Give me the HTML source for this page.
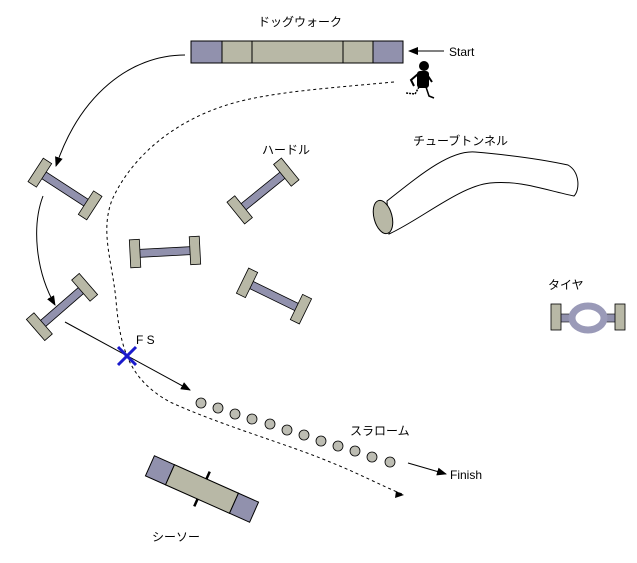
<!DOCTYPE html>
<html><head><meta charset="utf-8"><style>
html,body{margin:0;padding:0;background:#fff;}
svg{display:block;}
text{font-family:"Liberation Sans","Noto Sans CJK JP",sans-serif;font-size:12px;fill:#000;}
</style></head><body>
<svg width="637" height="563" viewBox="0 0 637 563" xmlns="http://www.w3.org/2000/svg">
<defs>
<marker id="ah" markerWidth="10" markerHeight="8" refX="9" refY="4" orient="auto" markerUnits="userSpaceOnUse">
<path d="M0,0 L10,4 L0,8 z" fill="#000"/></marker>
<g id="hurdle">
<rect x="-30" y="-4" width="60" height="8" fill="#9191ad" stroke="#000" stroke-width="0.8"/>
<rect x="-35" y="-14" width="10" height="28" fill="#b8b8a6" stroke="#000" stroke-width="0.8"/>
<rect x="25" y="-14" width="10" height="28" fill="#b8b8a6" stroke="#000" stroke-width="0.8"/>
</g>
</defs>

<!-- dogwalk -->
<text x="258" y="26">ドッグウォーク</text>
<rect x="191" y="41" width="31" height="22" fill="#9191ad" stroke="#000"/>
<rect x="222" y="41" width="30" height="22" fill="#b8b8a6" stroke="#000"/>
<rect x="252" y="41" width="91" height="22" fill="#b8b8a6" stroke="#000"/>
<rect x="343" y="41" width="30" height="22" fill="#b8b8a6" stroke="#000"/>
<rect x="373" y="41" width="30" height="22" fill="#9191ad" stroke="#000"/>
<line x1="444" y1="51" x2="409" y2="51" stroke="#000" marker-end="url(#ah)"/>
<text x="449" y="56">Start</text>

<!-- runner -->
<g fill="#000">
<circle cx="424" cy="66" r="5"/>
<rect x="417" y="71" width="12" height="17" rx="3"/>
<path d="M418,74 L411,80 L414,86" stroke="#000" stroke-width="2" fill="none"/>
<path d="M428,76 L432,82" stroke="#000" stroke-width="2" fill="none"/>
<path d="M419,87 L415,94 L406,93" stroke="#000" stroke-width="1.5" stroke-dasharray="2,1" fill="none"/>
<path d="M426,87 L429,96 L434,98" stroke="#000" stroke-width="1.5" fill="none"/>
</g>

<!-- solid arrows -->
<path d="M185,55 C130,55 80,95 56,166" fill="none" stroke="#000" marker-end="url(#ah)"/>
<path d="M43,196 C32,225 35,270 55,305" fill="none" stroke="#000" marker-end="url(#ah)"/>
<line x1="65" y1="322" x2="190" y2="390" stroke="#000" marker-end="url(#ah)"/>
<line x1="408" y1="463" x2="446" y2="474" stroke="#000" marker-end="url(#ah)"/>
<text x="450" y="479">Finish</text>

<!-- dashed path -->
<path d="M394,82 C330,88 270,92 230,104 C170,122 130,160 112,200 C100,232 112,260 116,300 C120,350 130,380 170,402 C220,425 290,445 330,462 C360,474 380,485 402,494" fill="none" stroke="#000" stroke-width="1" stroke-dasharray="3,3"/>
<path d="M396,491 L404,495 L395,498 z" fill="#000"/>

<!-- hurdles -->
<use href="#hurdle" transform="translate(65,189) rotate(33)"/>
<use href="#hurdle" transform="translate(263,191) rotate(-39)"/>
<use href="#hurdle" transform="translate(165,252) rotate(-3)"/>
<use href="#hurdle" transform="translate(274,296) rotate(26)"/>
<use href="#hurdle" transform="translate(62,307) rotate(-41)"/>
<text x="262" y="154">ハードル</text>

<!-- FS -->
<text x="136" y="344">F S</text>
<g stroke="#1a1acc" stroke-width="3">
<line x1="118" y1="347" x2="136" y2="365"/><line x1="136" y1="347" x2="118" y2="365"/>
</g>

<!-- tunnel -->
<text x="413" y="145">チューブトンネル</text>
<path d="M387,201 C420,175 450,150 475,152 C510,155 545,160 568,165 C580,172 580,190 574,196 C545,190 520,180 490,183 C460,186 420,220 389,234 Z" fill="#fff" stroke="#000"/>
<ellipse cx="383" cy="217" rx="9" ry="17" transform="rotate(-15 383 217)" fill="#b8b8a6" stroke="#000"/>

<!-- tire -->
<text x="548" y="289">タイヤ</text>
<rect x="560" y="314" width="14" height="8" fill="#9191ad" stroke="#000" stroke-width="0.6"/>
<rect x="602" y="314" width="14" height="8" fill="#9191ad" stroke="#000" stroke-width="0.6"/>
<rect x="551" y="304" width="10" height="26" fill="#b8b8a6" stroke="#000" stroke-width="0.8"/>
<rect x="615" y="304" width="10" height="26" fill="#b8b8a6" stroke="#000" stroke-width="0.8"/>
<ellipse cx="588" cy="318" rx="16" ry="12" fill="#fff" stroke="#9a9ab8" stroke-width="7"/>

<!-- slalom -->
<g fill="#bdbdb3" stroke="#000" stroke-width="0.8">
<circle cx="201" cy="403" r="5"/><circle cx="218" cy="408" r="5"/><circle cx="235" cy="414" r="5"/>
<circle cx="252" cy="419" r="5"/><circle cx="270" cy="424" r="5"/><circle cx="287" cy="430" r="5"/>
<circle cx="304" cy="435" r="5"/><circle cx="321" cy="441" r="5"/><circle cx="338" cy="446" r="5"/>
<circle cx="355" cy="451" r="5"/><circle cx="372" cy="457" r="5"/><circle cx="390" cy="462" r="5"/>
</g>
<text x="350" y="435">スラローム</text>

<!-- seesaw -->
<g transform="translate(202,489) rotate(24)">
<line x1="0" y1="-19" x2="0" y2="19" stroke="#000" stroke-width="2.5"/>
<rect x="-57" y="-11" width="22" height="22" fill="#9191ad" stroke="#000"/>
<rect x="-35" y="-11" width="70" height="22" fill="#b8b8a6" stroke="#000"/>
<rect x="35" y="-11" width="22" height="22" fill="#9191ad" stroke="#000"/>
</g>
<text x="152" y="541">シーソー</text>
</svg>
</body></html>
